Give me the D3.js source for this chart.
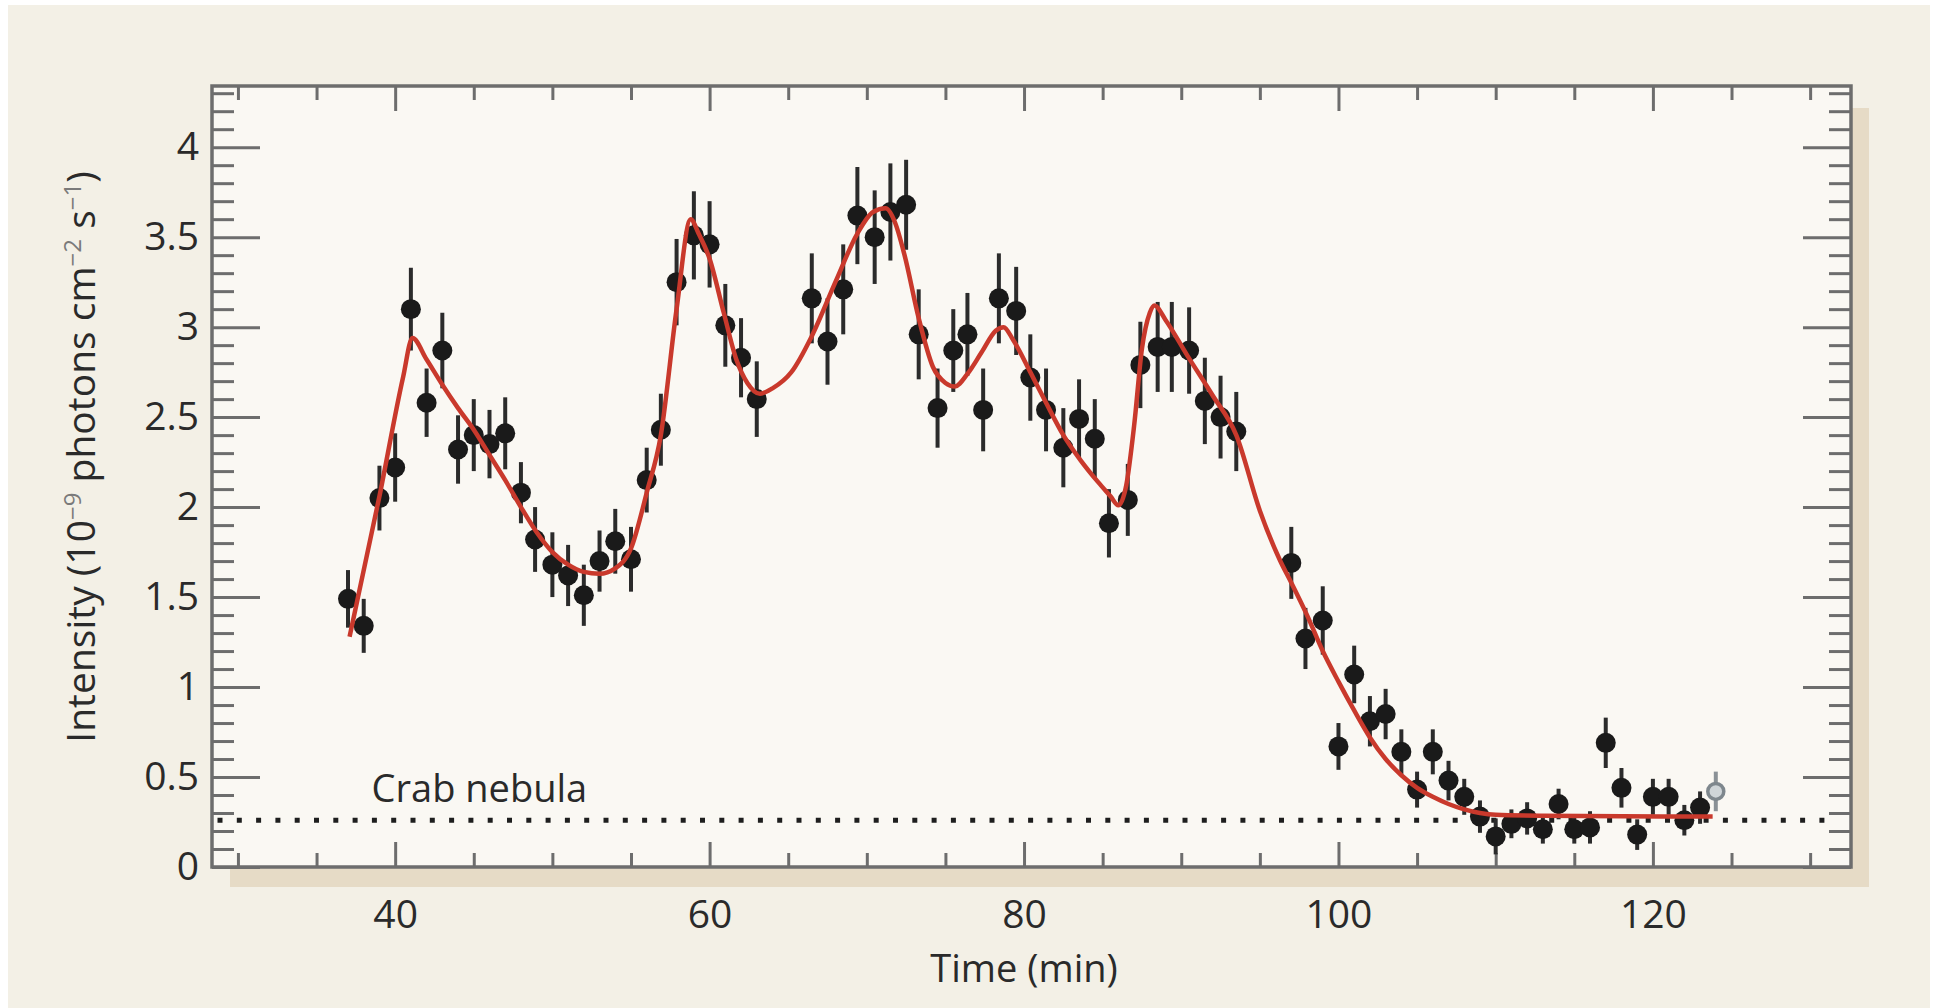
<!DOCTYPE html>
<html>
<head>
<meta charset="utf-8">
<script src="https://cdnjs.cloudflare.com/ajax/libs/d3/7.8.5/d3.min.js"></script>
<style>
body { margin: 0; background: #ffffff; }
text { font-family: "Open Sans", "Noto Sans", sans-serif; fill: #2a2a2a; }
.tick line { stroke: #6d6d6d; stroke-width: 3; }
</style>
</head>
<body>
<div id="chart"></div>
<script>
// measured points: time (min), intensity (1e-9 ph cm-2 s-1), error
var times = [37.0, 38.0, 39.0, 40.0, 41.0, 42.0, 43.0, 44.0, 45.0, 46.0,
    47.0, 48.0, 48.9, 50.0, 51.0, 52.0, 53.0, 54.0, 55.0, 56.0,
    56.9, 57.9, 59.0, 60.0, 61.0, 62.0, 63.0, 66.5, 67.5, 68.5,
    69.4, 70.5, 71.5, 72.5, 73.3, 74.5, 75.5, 76.4, 77.4, 78.4,
    79.5, 80.4, 81.4, 82.5, 83.5, 84.5, 85.4, 86.6, 87.4, 88.5,
    89.4, 90.5, 91.5, 92.5, 93.5, 97.0, 97.9, 99.0, 100.0, 101.0,
    102.0, 103.0, 104.0, 105.0, 106.0, 107.0, 108.0, 109.0, 110.0, 111.0,
    112.0, 113.0, 114.0, 115.0, 116.0, 117.0, 118.0, 119.0, 120.0, 121.0,
    122.0, 123.0];
var intensity = [1.49, 1.34, 2.05, 2.22, 3.10, 2.58, 2.87, 2.32, 2.40, 2.35,
    2.41, 2.08, 1.82, 1.68, 1.62, 1.51, 1.70, 1.81, 1.71, 2.15,
    2.43, 3.25, 3.51, 3.46, 3.01, 2.83, 2.60, 3.16, 2.92, 3.21,
    3.62, 3.50, 3.64, 3.68, 2.96, 2.55, 2.87, 2.96, 2.54, 3.16,
    3.09, 2.72, 2.54, 2.33, 2.49, 2.38, 1.91, 2.04, 2.79, 2.89,
    2.89, 2.87, 2.59, 2.50, 2.42, 1.69, 1.27, 1.37, 0.67, 1.07,
    0.81, 0.85, 0.64, 0.43, 0.64, 0.48, 0.39, 0.28, 0.17, 0.24,
    0.27, 0.21, 0.35, 0.21, 0.22, 0.69, 0.44, 0.18, 0.39, 0.39,
    0.26, 0.33];
var errors = [0.16, 0.15, 0.18, 0.19, 0.23, 0.19, 0.21, 0.19, 0.20, 0.19,
    0.20, 0.17, 0.18, 0.18, 0.17, 0.17, 0.17, 0.18, 0.18, 0.18,
    0.20, 0.24, 0.245, 0.24, 0.23, 0.22, 0.21, 0.25, 0.24, 0.25,
    0.27, 0.26, 0.27, 0.25, 0.25, 0.22, 0.23, 0.23, 0.23, 0.25,
    0.245, 0.24, 0.23, 0.22, 0.22, 0.22, 0.19, 0.20, 0.24, 0.25,
    0.25, 0.24, 0.24, 0.23, 0.22, 0.20, 0.17, 0.19, 0.13, 0.16,
    0.14, 0.14, 0.125, 0.10, 0.125, 0.11, 0.10, 0.09, 0.10, 0.08,
    0.09, 0.08, 0.085, 0.08, 0.09, 0.14, 0.11, 0.085, 0.10, 0.10,
    0.085, 0.09];
// last point, drawn open
var openTimes = [124.0];
var openIntensity = [0.42];
var openErrors = [0.11];

// fitted light curve
var fitTimes = [37.1, 39.0, 40.5, 41.1, 42.0, 43.0, 44.0, 45.0, 46.0, 47.0,
    48.0, 49.0, 50.0, 51.0, 52.0, 53.0, 54.0, 55.0, 56.0, 56.9,
    57.9, 58.8, 59.3, 60.0, 60.9, 61.7, 62.4, 63.2, 64.0, 65.2,
    66.5, 68.0, 69.4, 70.4, 71.2, 71.8, 72.4, 73.3, 74.2, 75.0,
    75.6, 76.4, 77.3, 78.2, 78.7, 79.3, 80.4, 81.4, 82.5, 83.6,
    84.7, 85.5, 86.0, 86.5, 87.0, 87.5, 88.0, 88.3, 89.0, 90.4,
    92.0, 93.5, 95.0, 96.3, 97.0, 98.0, 99.0, 100.0, 101.0, 102.0,
    103.0, 104.0, 105.0, 106.0, 107.0, 108.0, 109.0, 110.0, 113.0, 123.8];
var fitIntensity = [1.28, 2.06, 2.72, 2.94, 2.82, 2.68, 2.55, 2.43, 2.29, 2.15,
    2.00, 1.86, 1.75, 1.68, 1.64, 1.63, 1.66, 1.77, 2.08, 2.40,
    3.10, 3.60, 3.52, 3.38, 3.08, 2.82, 2.69, 2.63, 2.66, 2.75,
    2.95, 3.25, 3.52, 3.64, 3.66, 3.58, 3.40, 3.05, 2.78, 2.69,
    2.67, 2.74, 2.86, 2.98, 3.00, 2.93, 2.75, 2.58, 2.40, 2.26,
    2.14, 2.06, 2.01, 2.12, 2.45, 2.88, 3.08, 3.12, 3.04, 2.84,
    2.62, 2.40, 1.98, 1.70, 1.58, 1.40, 1.20, 1.03, 0.87, 0.72,
    0.60, 0.51, 0.44, 0.39, 0.35, 0.32, 0.30, 0.29, 0.285, 0.28];

// Crab nebula reference level
var crabLevel = 0.26;
var crabSpan = [28.7, 131.0];
var crabLabel = "Crab nebula";

// ticks
var xMajor = [40, 60, 80, 100, 120];
var xMinor = [30, 35, 45, 50, 55, 65, 70, 75, 85, 90, 95, 105, 110, 115, 125, 130];
var yMajor = [0, 0.5, 1, 1.5, 2, 2.5, 3, 3.5, 4];
var yMinor = d3.range(1, 44).filter(function(i) { return i % 5 != 0; }).map(function(i) { return i / 10; });

var margin = { top: 86, right: 86, bottom: 141, left: 212 },
    width = 1937 - margin.left - margin.right,
    height = 1008 - margin.top - margin.bottom;

var x = d3.scaleLinear().domain([28.35, 132.6]).range([0, width]);
var y = d3.scaleLinear().domain([0, 4.34]).range([height, 0]);

var root = d3.select("#chart").append("svg")
    .attr("width", 1937)
    .attr("height", 1008);

root.append("rect").attr("x", 8).attr("y", 5).attr("width", 1922).attr("height", 1003)
    .attr("fill", "#f3f0e6");

var svg = root.append("g")
    .attr("transform", "translate(" + margin.left + "," + margin.top + ")");

// shadow + plot area
svg.append("rect").attr("x", 18).attr("y", 22).attr("width", width).attr("height", height - 2)
    .attr("fill", "#e6dbc6");
svg.append("rect").attr("width", width).attr("height", height).attr("fill", "#faf8f3");

// crab nebula level
svg.append("line")
    .attr("x1", x(crabSpan[0])).attr("x2", x(crabSpan[1]))
    .attr("y1", y(crabLevel)).attr("y2", y(crabLevel))
    .attr("stroke", "#1e1e1e").attr("stroke-width", 5)
    .attr("stroke-dasharray", "5,14.3");
svg.append("text")
    .attr("x", x(38.5)).attr("y", y(0.36))
    .attr("font-size", 38)
    .text(crabLabel);

// axes
function noLabel() { return ""; }

svg.append("g").attr("class", "axis").attr("transform", "translate(0," + height + ")")
    .call(d3.axisBottom(x).tickValues(xMajor).tickSize(-25).tickPadding(33).tickFormat(d3.format("d")));
svg.append("g").attr("class", "axis").attr("transform", "translate(0," + height + ")")
    .call(d3.axisBottom(x).tickValues(xMinor).tickSize(-14).tickFormat(noLabel));
svg.append("g").attr("class", "axis")
    .call(d3.axisTop(x).tickValues(xMajor).tickSize(-25).tickFormat(noLabel));
svg.append("g").attr("class", "axis")
    .call(d3.axisTop(x).tickValues(xMinor).tickSize(-14).tickFormat(noLabel));

svg.append("g").attr("class", "axis")
    .call(d3.axisLeft(y).tickValues(yMajor).tickSize(-48).tickPadding(13).tickFormat(function(d) { return String(d); }));
svg.append("g").attr("class", "axis")
    .call(d3.axisLeft(y).tickValues(yMinor).tickSize(-22).tickFormat(noLabel));
svg.append("g").attr("class", "axis").attr("transform", "translate(" + width + ",0)")
    .call(d3.axisRight(y).tickValues(yMajor).tickSize(-48).tickFormat(noLabel));
svg.append("g").attr("class", "axis").attr("transform", "translate(" + width + ",0)")
    .call(d3.axisRight(y).tickValues(yMinor).tickSize(-22).tickFormat(noLabel));

svg.selectAll(".axis .domain").remove();
svg.selectAll(".axis text")
    .attr("font-size", 39)
    .attr("font-family", "'Open Sans', 'Noto Sans', sans-serif")
    .attr("fill", "#2a2a2a");

// frame
svg.append("rect").attr("width", width).attr("height", height)
    .attr("fill", "none").attr("stroke", "#6d6d6d").attr("stroke-width", 3.5);

// error bars and points
var pts = times.map(function(t, i) { return { t: t, v: intensity[i], e: errors[i] }; });

svg.selectAll(".err").data(pts).enter().append("line")
    .attr("class", "err")
    .attr("x1", function(d) { return x(d.t); })
    .attr("x2", function(d) { return x(d.t); })
    .attr("y1", function(d) { return y(d.v - d.e); })
    .attr("y2", function(d) { return y(d.v + d.e); })
    .attr("stroke", "#2b2b2b").attr("stroke-width", 4);

svg.selectAll(".dot").data(pts).enter().append("circle")
    .attr("class", "dot")
    .attr("cx", function(d) { return x(d.t); })
    .attr("cy", function(d) { return y(d.v); })
    .attr("r", 10)
    .attr("fill", "#1a1a1a");

var openPts = openTimes.map(function(t, i) { return { t: t, v: openIntensity[i], e: openErrors[i] }; });
svg.selectAll(".err-open").data(openPts).enter().append("line")
    .attr("class", "err-open")
    .attr("x1", function(d) { return x(d.t); })
    .attr("x2", function(d) { return x(d.t); })
    .attr("y1", function(d) { return y(d.v - d.e); })
    .attr("y2", function(d) { return y(d.v + d.e); })
    .attr("stroke", "#8a9196").attr("stroke-width", 4);
svg.selectAll(".dot-open").data(openPts).enter().append("circle")
    .attr("class", "dot-open")
    .attr("cx", function(d) { return x(d.t); })
    .attr("cy", function(d) { return y(d.v); })
    .attr("r", 8)
    .attr("fill", "#cfd5d8").attr("stroke", "#7e878d").attr("stroke-width", 3.5);

// fit
var fit = fitTimes.map(function(t, i) { return [t, fitIntensity[i]]; });
svg.append("path")
    .datum(fit)
    .attr("fill", "none")
    .attr("stroke", "#c9392c")
    .attr("stroke-width", 4.5)
    .attr("stroke-linejoin", "round")
    .attr("d", d3.line()
        .x(function(d) { return x(d[0]); })
        .y(function(d) { return y(d[1]); })
        .curve(d3.curveMonotoneX));

// axis titles
svg.append("text")
    .attr("x", (x(40) + x(120)) / 2)
    .attr("y", height + 115)
    .attr("text-anchor", "middle")
    .attr("font-size", 38)
    .text("Time (min)");

var ylab = svg.append("text")
    .attr("transform", "translate(" + (95 - margin.left) + "," + (457 - margin.top) + ") rotate(-90)")
    .attr("text-anchor", "middle")
    .attr("font-size", 39);
ylab.append("tspan").text("Intensity (10");
ylab.append("tspan").attr("dy", -14).attr("font-size", 24).attr("fill", "#7a7a7a").text("\u22129");
ylab.append("tspan").attr("dy", 14).text(" photons cm");
ylab.append("tspan").attr("dy", -14).attr("font-size", 24).attr("fill", "#7a7a7a").text("\u22122");
ylab.append("tspan").attr("dy", 14).text(" s");
ylab.append("tspan").attr("dy", -14).attr("font-size", 24).attr("fill", "#7a7a7a").text("\u22121");
ylab.append("tspan").attr("dy", 14).text(")");
</script>
</body>
</html>
